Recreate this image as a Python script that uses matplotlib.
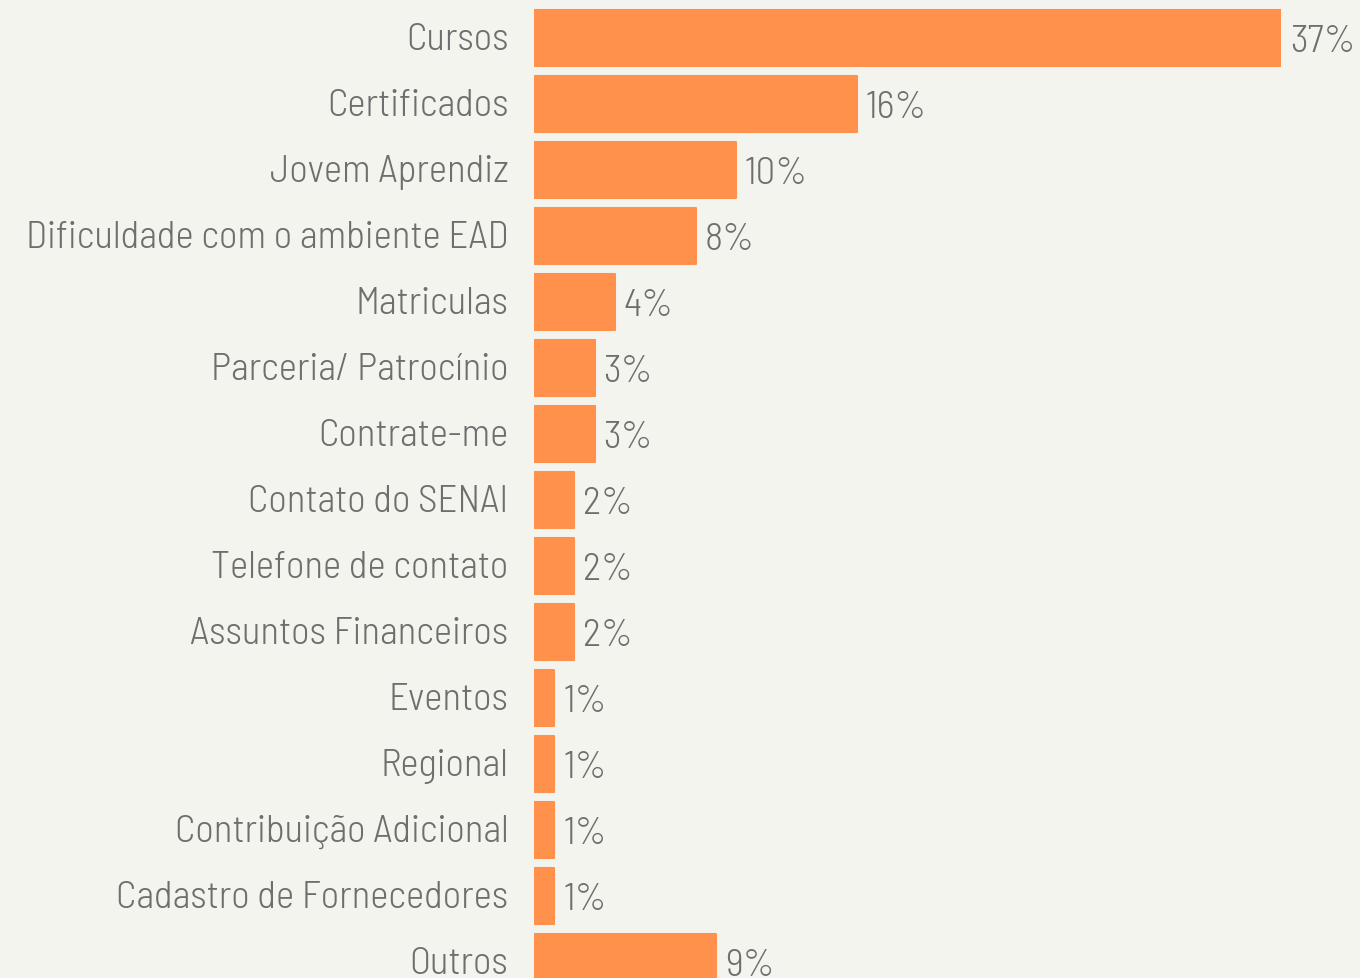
import matplotlib
matplotlib.use("Agg")
import matplotlib.pyplot as plt
import matplotlib.transforms as mtransforms
import numpy as np

# data (% of contacts by subject)
categorias = [
    "Cursos", "Certificados", "Jovem Aprendiz", "Dificuldade com o ambiente EAD",
    "Matriculas", "Parceria/ Patrocínio", "Contrate-me", "Contato do SENAI",
    "Telefone de contato", "Assuntos Financeiros", "Eventos", "Regional",
    "Contribuição Adicional", "Cadastro de Fornecedores", "Outros",
]
percentuais = [37, 16, 10, 8, 4, 3, 3, 2, 2, 2, 1, 1, 1, 1, 9]

BG = "#f4f4ef"
BAR = "#ff914d"
TXT = "#6e6e6e"
FONT = ["Barlow Semi Condensed", "DejaVu Sans"]

fig = plt.figure(figsize=(13.6, 9.79), dpi=100, facecolor=BG)
# axes placed in pixels: bars start at x=534, 37% reaches x=1281
ax = fig.add_axes([534 / 1360, 0, (1281 - 534) / 1360, 1])
ax.set_facecolor(BG)

y = np.arange(len(categorias))
ax.barh(y, percentuais, height=0.86, color=BAR, edgecolor=BAR,
        linewidth=1.5, joinstyle="round")

ax.set_xlim(0, 37)
pitch = 66.0
ax.set_ylim(len(categorias) - 1 + (979 - 963) / pitch, -39 / pitch)

ax.set_yticks(y)
ax.set_yticklabels(categorias, fontsize=28, color=TXT, family=FONT, weight=300)
ax.tick_params(axis="y", length=0, pad=18.5)
# nudge the category labels up a touch
shift = mtransforms.ScaledTranslation(0, 2 / 72, fig.dpi_scale_trans)
for lab in ax.get_yticklabels():
    lab.set_transform(lab.get_transform() + shift)
ax.set_xticks([])
for s in ax.spines.values():
    s.set_visible(False)

for yi, v in zip(y, percentuais):
    ax.annotate(f"{v}%", (v, yi), xytext=(6.5, -2.5), textcoords="offset points",
                va="center", ha="left", fontsize=28, color=TXT,
                family=FONT, weight=300, annotation_clip=False)

fig.savefig("out.png", dpi=100, facecolor=BG)
